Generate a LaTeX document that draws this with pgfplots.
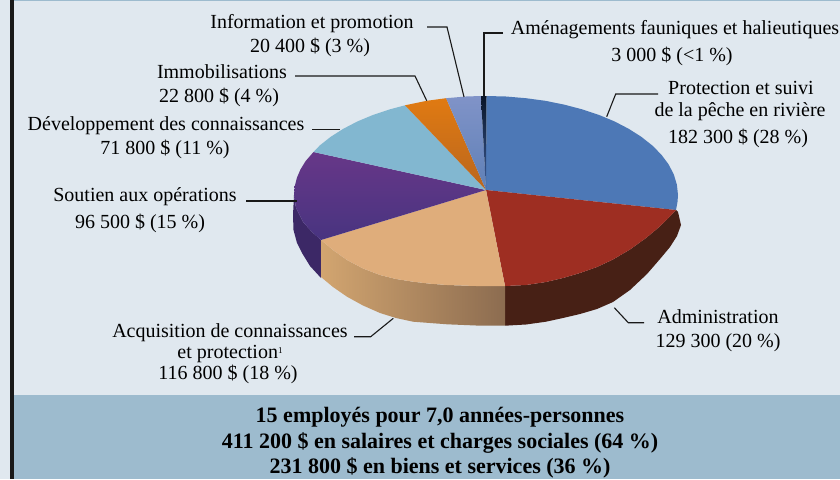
\documentclass[border=0pt]{standalone}
\usepackage{pgfplots}
\pgfplotsset{compat=1.18}
\usepackage{fontspec}
\setmainfont{Liberation Serif}
\definecolor{bg}{HTML}{E0E8EF}
\definecolor{band}{HTML}{9DBBCE}
\definecolor{sidepurple}{HTML}{3C2866}
\definecolor{sidered}{HTML}{472015}
\definecolor{sidetanA}{HTML}{D2A570}
\definecolor{sidetanB}{HTML}{8C6C50}
\definecolor{cblue}{HTML}{4D78B6}
\definecolor{cred}{HTML}{9E2E22}
\definecolor{ctan}{HTML}{DFAD7B}
\definecolor{cpurpleA}{HTML}{673788}
\definecolor{cpurpleB}{HTML}{483480}
\definecolor{clight}{HTML}{82B7D0}
\definecolor{corangeA}{HTML}{E07A12}
\definecolor{corangeB}{HTML}{B9661E}
\definecolor{cperiA}{HTML}{8093C8}
\definecolor{cperiB}{HTML}{5F80B6}
\definecolor{cdarkA}{HTML}{081428}
\definecolor{cdarkB}{HTML}{3F5F9A}
\tikzset{lab/.style={anchor=base,inner sep=0pt,font=\fontsize{20}{22}\selectfont,text=black},
 blab/.style={anchor=base,inner sep=0pt,font=\fontsize{22}{24}\bfseries\selectfont,text=black},
 lead/.style={draw=black!90,line width=1.1pt}}
\begin{document}
\begin{tikzpicture}
\path[use as bounding box] (0,0) rectangle (840pt,479pt);
\begin{axis}[at={(0,0)},anchor=south west,width=840pt,height=479pt,scale only axis,hide axis,
 xmin=0,xmax=840,ymin=0,ymax=479,y dir=reverse,enlargelimits=false]
% backgrounds
\addplot[fill=bg,draw=none] coordinates {(0,0)(840,0)(840,479)(0,479)} -- cycle;
\addplot[fill=band,draw=none] coordinates {(13,395)(840,395)(840,479)(13,479)} -- cycle;
\addplot[fill=band,draw=none] coordinates {(13,0)(840,0)(840,1.4)(13,1.4)} -- cycle;
\addplot[fill=black!90,draw=none] coordinates {(10.3,0)(13.7,0)(13.7,479)(10.3,479)} -- cycle;
% side walls
\addplot[draw=none,fill=sidepurple] coordinates {(294,195)(293,215)(293.5,230)(297,243)(302,253)(310,266)(321,278)(321,240)(312,232)(303,222)(296,208)} -- cycle;
\addplot[draw=none,fill=sidered] coordinates {(505,286)(526,285)(546,282)(563,278)(580,273)(597,267)(613,259.5)(630,249.5)(646,238)(658,228)(668,218.5)(676,210)(678,212)(681,225)(677,236)(670,247)(660,259)(647,274)(630,290)(613,302)(597,309)(580,314)(563,318)(546,321.7)(526,324.5)(505,325.7)} -- cycle;
\addplot[draw=none,left color=sidetanA,right color=sidetanB] coordinates {(321,240)(333,250)(347,260)(363,268.5)(380,275)(396,279)(413,281.7)(430,283.7)(447,285)(476,286)(505,286)(505,325.7)(476,325.5)(447,324.3)(430,323)(413,321.7)(396,318)(380,313)(363,305.5)(347,296.7)(333,287)(321,277)} -- cycle;
% top surface slices
% Protection et suivi
\addplot[draw=none,fill=cblue] coordinates {(486,190)(486.5,96)(506,96.5)(525.9,98.2)(545.3,100.8)(564.1,104.6)(582,109.3)(598.9,114.9)(614.5,121.4)(628.7,128.8)(641.3,136.8)(652.3,145.5)(661.4,154.7)(668.6,164.4)(673.8,174.4)(676.9,184.7)(678,195)(677.5,201.9)(676,210)} -- cycle;
% Administration
\addplot[draw=none,fill=cred] coordinates {(486,190)(676,210)(668,218.5)(658,228)(646,238)(630,249.5)(613,259.5)(597,267)(580,273)(563,278)(546,282)(526,285)(505,286)} -- cycle;
% Acquisition
\addplot[draw=none,fill=ctan] coordinates {(486,190)(505,286)(476,286)(447,285)(430,283.7)(413,281.7)(396,279)(380,275)(363,268.5)(347,260)(333,250)(321,240)} -- cycle;
% Soutien
\addplot[draw=none,top color=cpurpleA,bottom color=cpurpleB] coordinates {(486,190)(321,240)(312,232)(303,222)(296,208)(294,195)(294.7,186.4)(296.9,177.8)(300.5,169.4)(305.6,161.1)(313.5,152)} -- cycle;
% Developpement
\addplot[draw=none,fill=clight] coordinates {(486,190)(313.5,152)(319.7,145.5)(330.7,136.8)(343.3,128.8)(357.5,121.4)(373.1,114.9)(390,109.3)(405,105.3)} -- cycle;
% Immobilisations
\addplot[draw=none,top color=corangeA,bottom color=corangeB] coordinates {(486,190)(405,105.3)(426.7,100.8)(446.1,98.2)} -- cycle;
% Information
\addplot[draw=none,top color=cperiA,bottom color=cperiB] coordinates {(486,190)(446.1,98.2)(466,96.5)(481,96)} -- cycle;
% Amenagements
\addplot[draw=none,top color=cdarkA,bottom color=cdarkB] coordinates {(486,190)(481,96)(486.5,96)} -- cycle;
% leaders
\addplot[lead] coordinates {(427,27)(447,27)(464,97)};
\addplot[lead] coordinates {(503,33)(484,33)(484,96)};
\addplot[lead] coordinates {(658,94)(615.7,94)(606.7,116.7)};
\addplot[lead] coordinates {(295,76)(415,76)(426.7,100.7)};
\addplot[lead] coordinates {(312,129.3)(340,129.3)};
\addplot[lead] coordinates {(246,201)(296.7,201)};
\addplot[lead] coordinates {(354,336.7)(370.7,336.7)(393.3,318.3)};
\addplot[lead] coordinates {(614.3,307.7)(628.3,322.7)(644,322.7)};
% labels
\node[lab] at (axis cs:312,28) {Information et promotion};
\node[lab] at (axis cs:310,52) {20 400 \$ (3 \%)};
\node[lab] at (axis cs:222,78) {Immobilisations};
\node[lab] at (axis cs:219,102) {22 800 \$ (4 \%)};
\node[lab] at (axis cs:166,130) {Développement des connaissances};
\node[lab] at (axis cs:165,154) {71 800 \$ (11 \%)};
\node[lab] at (axis cs:145,201) {Soutien aux opérations};
\node[lab] at (axis cs:140,228) {96 500 \$ (15 \%)};
\node[lab] at (axis cs:675,34) {Aménagements fauniques et halieutiques};
\node[lab] at (axis cs:672,61) {3 000 \$ (<1 \%)};
\node[lab] at (axis cs:741,94) {Protection et suivi};
\node[lab] at (axis cs:740,116) {de la pêche en rivière};
\node[lab] at (axis cs:738,143) {182 300 \$ (28 \%)};
\node[lab] at (axis cs:230,337) {Acquisition de connaissances};
\node[lab] at (axis cs:230,358) {et protection\raisebox{5pt}{\fontsize{9}{9}\selectfont 1}};
\node[lab] at (axis cs:228,379) {116 800 \$ (18 \%)};
\node[lab] at (axis cs:718,323) {Administration};
\node[lab] at (axis cs:718,347) {129 300 (20 \%)};
\node[blab] at (axis cs:440,422) {15 employés pour 7,0 années-personnes};
\node[blab] at (axis cs:440,448) {411 200 \$ en salaires et charges sociales (64 \%)};
\node[blab] at (axis cs:440,473.5) {231 800 \$ en biens et services (36 \%)};
\end{axis}
\end{tikzpicture}
\end{document}
